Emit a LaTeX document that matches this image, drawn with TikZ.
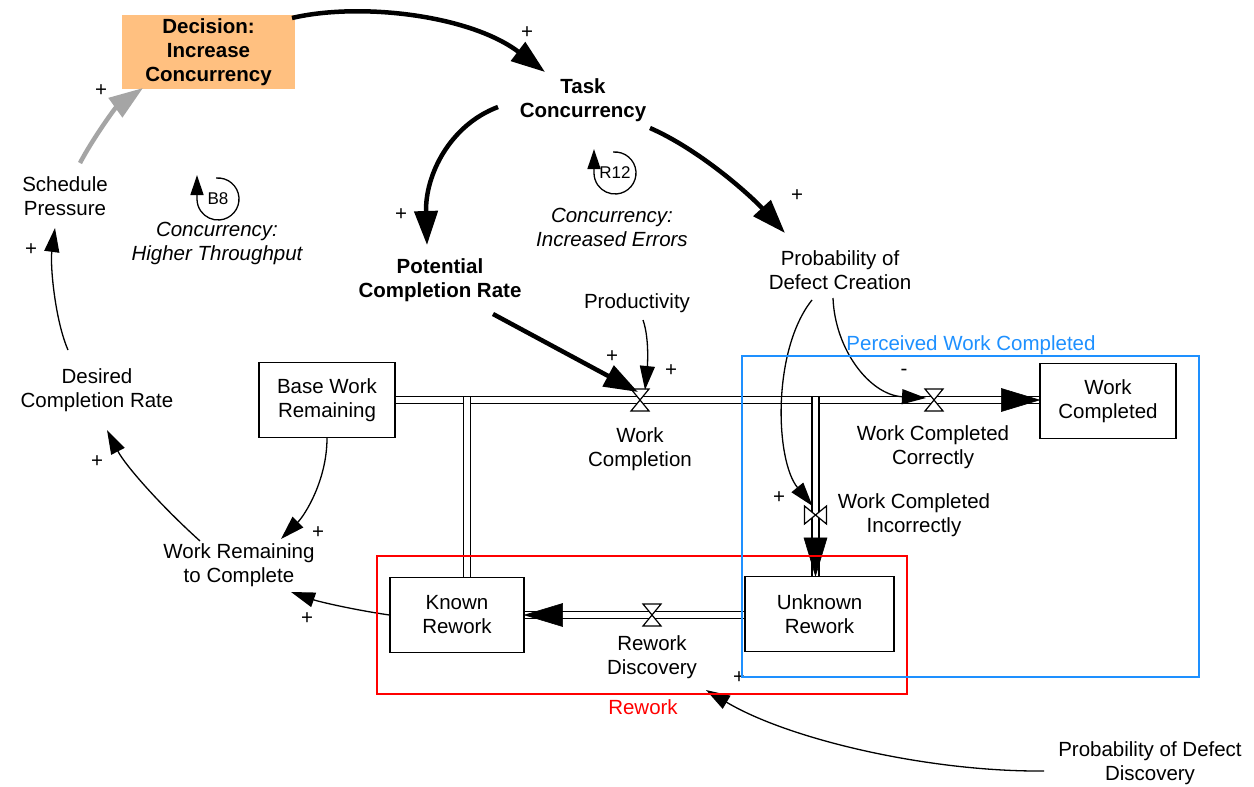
\documentclass[tikz,border=0pt]{standalone}
\usepackage{fontspec}
\setmainfont{Liberation Sans}
\usetikzlibrary{arrows.meta,calc}
\definecolor{decfill}{RGB}{255,192,128}
\definecolor{pblue}{RGB}{30,144,255}
\definecolor{pred}{RGB}{255,0,0}
\definecolor{lgray}{RGB}{165,165,165}
\newcommand\hvalve[1]{\draw[valve] ($(#1)+(-9,-11)$) -- ($(#1)+(9,-11)$) -- ($(#1)+(-9,11)$) -- ($(#1)+(9,11)$) -- cycle;}
\newcommand\vvalve[1]{\draw[valve] ($(#1)+(-11,-9)$) -- ($(#1)+(-11,9)$) -- ($(#1)+(11,-9)$) -- ($(#1)+(11,9)$) -- cycle;}
\tikzset{
  every node/.style={font=\fontsize{20.5}{24}\selectfont, align=center, inner sep=1pt},
  var/.style={},
  bvar/.style={font=\fontsize{20.5}{24}\selectfont\bfseries},
  ivar/.style={font=\fontsize{20.5}{24}\selectfont\itshape},
  decision/.style={fill=decfill, minimum width=173pt, minimum height=74pt, font=\fontsize{20.5}{24}\selectfont\bfseries},
  stock/.style={draw, line width=1.2pt, minimum width=136pt, minimum height=75pt},
  loopid/.style={font=\fontsize{17}{20}\selectfont},
  link/.style={line width=1.3pt, -{Triangle[length=24pt,width=15pt]}},
  heavylink/.style={line width=4.5pt, -{Triangle[length=34pt,width=23pt]}},
  looparrow/.style={line width=1.3pt, -{Triangle[length=20pt,width=13pt]}},
  pipe/.style={line width=1.4pt, double=white, double distance=5.5pt},
  flowhead/.style={fill=black, draw=black, line width=0.6pt, line join=miter},
  valve/.style={line width=1.2pt, fill=white, draw},
  groupbox/.style={line width=2.8pt, fill=none},
}
\begin{document}
\begin{tikzpicture}[x=1pt,y=-1pt]
\useasboundingbox (0,0) rectangle (1254,787);

% ---------- nodes ----------
\node[decision] (dec) at (208.5,52) {Decision:\\Increase\\Concurrency};
\node[bvar] (tc) at (583,100) {Task\\Concurrency};
\node[var] (sp) at (65,196) {Schedule\\Pressure};
\node[ivar] (lb8) at (217,243) {Concurrency:\\Higher Throughput};
\node[bvar] (pcr) at (440,280) {Potential\\Completion Rate};
\node[ivar] (lr12) at (612,227) {Concurrency:\\Increased Errors};
\node[var] (pdc) at (840,270) {Probability of\\Defect Creation};
\node[var] (prod) at (637,303) {Productivity};
\node[stock] (bwr) at (327,400) {Base Work\\Remaining};
\node[stock] (wcomp) at (1108,401) {Work\\Completed};
\node[stock, minimum width=134pt] (kr) at (457,615) {Known\\Rework};
\node[stock, minimum width=149pt] (ur) at (819.5,614) {Unknown\\Rework};
\node[var] (wrc) at (239,565) {Work Remaining\\to Complete};
\node[var] (dcr) at (97,390) {Desired\\Completion Rate};
\node[var] (pdd) at (1150,763) {Probability of Defect\\Discovery};
\node[var] (lwc) at (640,449) {Work\\Completion};
\node[var] (lwcc) at (933,447) {Work Completed\\Correctly};
\node[var] (lwci) at (914,515) {Work Completed\\Incorrectly};
\node[var] (lrd) at (652,657) {Rework\\Discovery};
\node[loopid] (b8) at (218,199) {B8};
\node[loopid] (r12) at (615,173) {R12};

% ---------- flows ----------
\coordinate (v1) at (640,400);
\coordinate (v2) at (934,400);
\coordinate (v3) at (815.5,515);
\coordinate (v4) at (652,615);
\coordinate (j1) at (467,397.3);
\coordinate (j2) at (815.5,397.3);
\coordinate (tipwc) at (wcomp.west |- v1);
\coordinate (tipur) at (j2 |- ur.north);
\coordinate (tipkr) at (kr.east |- v4);

\draw[pipe] (bwr.east) -- (tipwc);
\draw[pipe] (j1) -- (j1 |- kr.north);
\draw[pipe] (j2) -- (tipur);
\draw[pipe] (ur.west |- v4) -- (tipkr);
\draw[flowhead] (tipwc) -- ($(tipwc)+(-38,-11.5)$) -- ($(tipwc)+(-38,11.5)$) -- cycle;
\draw[flowhead] (tipur) -- ($(tipur)+(-11.5,-38)$) -- ($(tipur)+(11.5,-38)$) -- cycle;
\draw[flowhead] (tipkr) -- ($(tipkr)+(38,-11.5)$) -- ($(tipkr)+(38,11.5)$) -- cycle;
\hvalve{v1}
\hvalve{v2}
\vvalve{v3}
\hvalve{v4}

% ---------- loop markers ----------
\draw[looparrow] ($(b8)+(-95:21)$) arc[start angle=-95, end angle=180, radius=21] -- ++(0,-24);
\draw[looparrow] ($(r12)+(-95:21)$) arc[start angle=-95, end angle=180, radius=21] -- ++(0,-24);

% ---------- links ----------
\draw[heavylink] ($(dec)+(83.5,-34)$) .. controls (360,2) and (470,15) .. ($(tc)+(-38,-28)$);
\draw[heavylink, lgray] ($(sp)+(15,-33)$) .. controls (92,140) and (115,108) .. ($(dec)+(-65.5,36)$);
\draw[link] ($(dcr)+(-29,-40)$) .. controls (55,320) and (50,265) .. ($(sp)+(-10,32)$);
\draw[link] ($(wrc)+(-39,-24)$) .. controls (160,505) and (125,465) .. ($(dcr)+(10,40)$);
\draw[link] (bwr.south) .. controls (327,480) and (305,515) .. ($(wrc)+(42,-26)$);
\draw[link] (kr.west) .. controls (355,610) and (320,602) .. ($(wrc)+(52,27)$);
\draw[heavylink] ($(tc)+(-85,7)$) .. controls (450,125) and (425,175) .. ($(pcr)+(-13,-35)$);
\draw[heavylink] ($(tc)+(67,28)$) .. controls (700,150) and (750,195) .. ($(pdc)+(-55,-37)$);
\draw[heavylink] ($(pcr)+(53,34)$) -- ($(v1)+(-2,-8)$);
\draw[link] ($(prod)+(6,17)$) .. controls (650,340) and (647,370) .. ($(v1)+(5,-10)$);
\draw[link] ($(pdc)+(-7,28)$) .. controls (835,350) and (870,395) .. ($(v2)+(-8,-2)$);
\draw[link] ($(pdc)+(-28,30)$) .. controls (772,350) and (775,460) .. ($(v3)+(-3,-9)$);
\draw[link] ($(pdd)+(-106,8)$) .. controls (930,772) and (790,740) .. ($(lrd)+(54,33)$);

% ---------- polarities ----------
\node (s1) at (527,33) {+};
\node (s2) at (101,91) {+};
\node (s3) at (31,250) {+};
\node (s4) at (401,215) {+};
\node (s5) at (797,196) {+};
\node (s6) at (612,357) {+};
\node (s7) at (671,371) {+};
\node (s8) at (904,372) {-};
\node (s9) at (779,498) {+};
\node (s10) at (318,533) {+};
\node (s11) at (307,619) {+};
\node (s12) at (97,462) {+};
\node (s13) at (739,678) {+};

% ---------- groups ----------
\node[groupbox, draw=pred, minimum width=530pt, minimum height=138pt, inner sep=0pt] (rbox) at (642,625) {};
\node[text=pred] (rlbl) at (643,707) {Rework};
\node[groupbox, draw=pblue, minimum width=457pt, minimum height=321pt, inner sep=0pt] (bbox) at (970.5,516.5) {};
\node[text=pblue] (blbl) at (971,345) {Perceived Work Completed};
\end{tikzpicture}
\end{document}
